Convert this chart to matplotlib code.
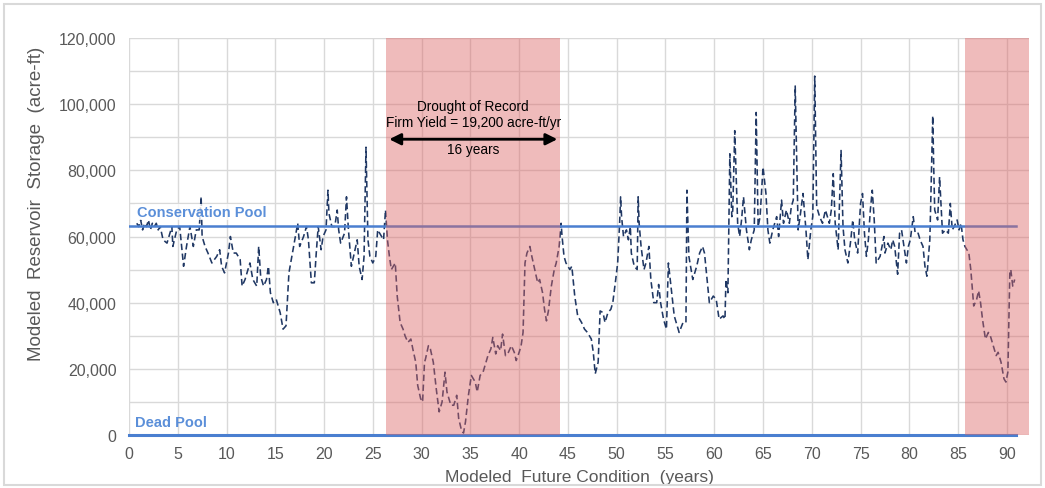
import numpy as np
import matplotlib
matplotlib.use("Agg")
import matplotlib.pyplot as plt
from matplotlib.patches import Rectangle
from matplotlib.ticker import FuncFormatter, MultipleLocator

plt.rcParams['font.family'] = ['Liberation Sans', 'DejaVu Sans']

# modeled reservoir storage (years, thousand acre-ft)
years = [0.8, 1.0, 1.2, 1.4, 1.6, 1.8, 2.0, 2.2, 2.4, 2.6, 2.8, 3.0, 3.2, 3.5, 3.9, 4.4, 4.5, 4.9, 5.2, 5.6,
         5.9, 6.25, 6.6, 6.9, 7.2, 7.4, 7.5, 7.8, 8.1, 8.5, 9.0, 9.3, 9.5, 9.8, 10.2, 10.4, 10.7, 11.0, 11.4, 11.6,
         11.9, 12.4, 12.7, 13.1, 13.3, 13.5, 13.8, 14.1, 14.3, 14.5, 14.8, 15.1, 15.5, 15.8, 16.1, 16.4, 16.7, 17.0, 17.3, 17.5,
         17.9, 18.2, 18.4, 18.7, 19.0, 19.2, 19.4, 19.7, 19.9, 20.2, 20.4, 20.5, 20.8, 21.1, 21.35, 21.5, 21.7, 22.1, 22.3, 22.5,
         22.8, 23.1, 23.4, 23.6, 23.9, 24.1, 24.3, 24.5, 24.7, 25.0, 25.3, 25.5, 25.9, 26.1, 26.3, 26.5, 26.7, 26.9, 27.3, 27.5,
         27.8, 28.1, 28.3, 28.6, 28.9, 29.1, 29.4, 29.6, 29.9, 30.1, 30.3, 30.4, 30.7, 30.9, 31.2, 31.5, 31.8, 32.1, 32.4, 32.6,
         33.0, 33.3, 33.6, 33.8, 34.1, 34.3, 34.5, 34.8, 35.1, 35.5, 35.7, 36.0, 36.3, 36.6, 36.8, 37.1, 37.3, 37.6, 37.8, 38.1,
         38.3, 38.6, 38.9, 39.2, 39.5, 39.7, 40.0, 40.2, 40.4, 40.6, 40.8, 41.1, 41.3, 41.6, 41.9, 42.1, 42.4, 42.6, 42.8, 43.0,
         43.3, 43.6, 43.8, 44.1, 44.3, 44.4, 44.6, 44.8, 45.2, 45.4, 45.7, 46.0, 46.4, 46.7, 47.0, 47.4, 47.6, 47.8, 48.1, 48.3,
         48.6, 48.8, 49.1, 49.4, 49.6, 49.9, 50.1, 50.3, 50.4, 50.5, 50.7, 51.0, 51.2, 51.4, 51.5, 51.8, 52.1, 52.2, 52.3, 52.5,
         52.8, 53.0, 53.3, 53.5, 53.8, 54.1, 54.3, 54.5, 54.8, 55.1, 55.3, 55.6, 55.9, 56.4, 56.8, 57.1, 57.2, 57.4, 57.8, 58.2,
         58.5, 58.8, 59.0, 59.3, 59.5, 59.9, 60.2, 60.5, 60.9, 61.1, 61.2, 61.4, 61.6, 61.8, 61.9, 62.1, 62.4, 62.6, 62.8, 63.0,
         63.3, 63.6, 63.8, 64.1, 64.3, 64.5, 64.7, 65.0, 65.3, 65.5, 65.7, 66.0, 66.4, 66.6, 66.9, 67.1, 67.4, 67.7, 67.9, 68.1,
         68.3, 68.6, 68.8, 69.1, 69.4, 69.6, 69.9, 70.1, 70.3, 70.5, 70.8, 71.1, 71.4, 71.8, 72.0, 72.2, 72.4, 72.7, 72.8, 73.0,
         73.2, 73.4, 73.7, 74.0, 74.2, 74.4, 74.7, 75.0, 75.2, 75.4, 75.6, 75.8, 76.0, 76.2, 76.4, 76.6, 77.0, 77.2, 77.4, 77.5,
         77.8, 78.1, 78.3, 78.5, 78.8, 79.0, 79.2, 79.4, 79.7, 79.9, 80.1, 80.4, 80.6, 80.9, 81.1, 81.4, 81.6, 81.8, 82.1, 82.2,
         82.4, 82.5, 82.6, 82.9, 83.1, 83.3, 83.4, 83.7, 84.0, 84.2, 84.4, 84.6, 84.9, 85.1, 85.3, 85.5, 85.7, 86.1, 86.3, 86.6,
         86.9, 87.1, 87.3, 87.5, 87.8, 88.1, 88.3, 88.7, 88.9, 89.1, 89.4, 89.7, 89.9, 90.1, 90.3, 90.4, 90.6, 90.8]
storage_k = [64, 63, 65, 62, 64, 63, 65, 62, 64, 63, 64, 62, 63, 59, 58, 63, 57, 62, 63, 51,
             57, 63, 57, 62, 62, 72, 60, 57, 55, 52, 54, 56, 51, 49, 55, 60, 55, 55, 53, 45,
             47, 52, 47, 45, 57, 48, 45, 47, 51, 43, 40, 41, 37, 32, 33, 49, 54, 59, 64, 57,
             60, 63, 59, 46, 46, 55, 63, 56, 60, 62, 74, 67, 63, 63, 68, 62, 58, 61, 72, 62,
             51, 55, 59, 51, 47, 54, 87, 59, 54, 52, 54, 62, 60, 59, 68, 59, 54, 50, 52, 42,
             34, 32, 30, 28, 29, 26, 22, 15, 11, 10, 22, 23, 27, 26, 22, 14, 7, 10, 19, 13,
             9, 9, 12, 5, 1.3, 0.6, 4, 12, 18, 16, 13, 18, 19, 22, 24, 26, 29.5, 24.5, 27, 25.5,
             30.5, 24, 25, 27, 25, 22.5, 25, 27, 31, 52, 55, 57, 54, 50, 46, 47, 43, 38, 34.5, 37.5,
             45, 50, 52, 57, 64, 60, 54, 52, 50, 51, 42, 36, 34, 32, 31, 29, 25, 18.5, 22, 37.5,
             37, 34, 37, 38, 40, 47, 52, 64, 72, 66, 60, 62, 59, 63, 55, 51, 50, 72, 64, 57,
             50, 52, 57, 47, 40, 40, 45.5, 40, 35, 32, 52, 44, 36, 31, 34, 34, 74, 54, 47, 51,
             55, 57, 55, 46, 40, 42, 41, 35, 36, 35, 47, 43, 85, 66, 68, 92, 64, 60, 65, 72,
             62, 56, 59, 62, 97.5, 63, 66, 81, 73, 62, 58, 62, 66, 60, 71, 64, 68, 64, 69, 71,
             105.5, 62, 66, 73, 62, 53, 62, 66, 108.5, 69, 66, 64, 68, 64, 68, 79, 64, 56, 66, 86,
             63, 56, 52, 59, 65, 59, 55, 70, 73, 61, 54, 59, 68, 74, 65, 52, 54, 57, 60, 55,
             58, 56, 59, 57, 48.6, 61, 62, 58, 52, 57, 59, 66, 61, 61, 59, 57, 51, 48, 59, 71,
             96.5, 81, 68, 65, 78, 67, 61, 62, 61, 70, 62, 63, 65, 62, 64, 59, 57, 55, 50, 39,
             41, 43.6, 40, 35, 29, 31, 30, 26, 24, 25, 22, 17, 16, 19, 49, 50, 45, 47]
storage = np.array(storage_k) * 1000

conservation_pool = 63200
dead_pool = 0
pool_end = 90.9
drought_periods = [(26.4, 44.2), (85.7, 92.3)]

fig = plt.figure(figsize=(10.45, 4.89), dpi=100)
ax = fig.add_axes([0.1234, 0.1084, 0.8616, 0.8118])

ax.plot(years, storage, color='#203864', lw=1.15, ls=(0, (4, 2.2)), zorder=3)
ax.plot([0, pool_end], [conservation_pool, conservation_pool], color='#4a7fd0', lw=1.8, zorder=4)
ax.plot([0, pool_end], [dead_pool, dead_pool], color='#4a7fd0', lw=2.2, zorder=4, clip_on=False)
for start, end in drought_periods:
    ax.axvspan(start, end, color='#dc6464', alpha=0.44, lw=0, zorder=5)

ax.text(0.8, 67400, 'Conservation Pool', color='#5b8fd9', fontsize=10.5, fontweight='bold',
        va='center', zorder=6, bbox=dict(facecolor='white', alpha=0.75, edgecolor='none', pad=1))
ax.text(0.6, 4000, 'Dead Pool', color='#5b8fd9', fontsize=10.5, fontweight='bold', va='center', zorder=6)

ax.annotate('', xy=(26.4, 89400), xytext=(44.2, 89400),
            arrowprops=dict(arrowstyle='<|-|>', color='black', lw=2, mutation_scale=17), zorder=7)
ax.text(35.3, 97000, 'Drought of Record\nFirm Yield = 19,200 acre-ft/yr', ha='center', va='center',
        fontsize=9.8, linespacing=1.2, zorder=7)
ax.text(35.3, 86500, '16 years', ha='center', va='center', fontsize=9.8, zorder=7)

ax.set_xlim(0, 92.3)
ax.set_ylim(0, 120000)
ax.xaxis.set_major_locator(MultipleLocator(5))
ax.yaxis.set_major_locator(MultipleLocator(20000))
ax.yaxis.set_minor_locator(MultipleLocator(10000))
ax.yaxis.set_major_formatter(FuncFormatter(lambda v, p: f'{int(v):,}'))
ax.grid(True, which='both', color='#d9d9d9', lw=1, zorder=0)
ax.set_axisbelow(True)
ax.tick_params(which='both', length=0, labelsize=11.5, labelcolor='#595959')
ax.tick_params(axis='y', pad=9)
ax.tick_params(axis='x', pad=8)
for s in ax.spines.values():
    s.set_visible(False)

ax.set_xlabel('Modeled  Future Condition  (years)', fontsize=12.5, color='#595959', labelpad=6)
ax.set_ylabel('Modeled  Reservoir  Storage  (acre-ft)', fontsize=13.5, color='#595959')
ax.yaxis.set_label_coords(-0.093, 0.584)

fig.patches.append(Rectangle((0.004, 0.006), 0.992, 0.984, transform=fig.transFigure,
                             fill=False, ec='#d9d9d9', lw=1.5))
fig.savefig('out.png', dpi=100)
